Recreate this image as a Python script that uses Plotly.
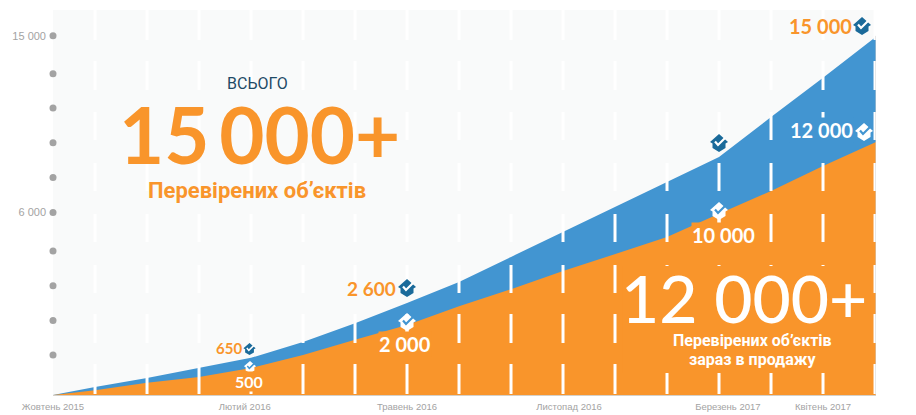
import plotly.graph_objects as go

# Axis units: x = dash-column index, y = equally drawn tick steps of the infographic scale
x_pos = [0.192, 1, 2, 3, 4, 5, 6, 7, 8, 9, 10, 11, 12, 13, 14, 15, 16, 16.019]
total = [0, 0.23, 0.49, 0.78, 1.07, 1.53, 2.07, 2.65, 3.26, 3.98, 4.70, 5.42, 6.14, 6.86, 8.01, 9.14, 10.30, 10.35]
on_sale = [0, 0.14, 0.35, 0.52, 0.78, 1.15, 1.59, 2.02, 2.56, 3.05, 3.57, 4.06, 4.55, 5.22, 5.88, 6.60, 7.27, 7.29]
y_ticks = [1.15, 2.15, 3.15, 4.15, 5.26, 6.27, 7.27, 8.27, 9.26, 10.35]
y_labels = ["", "", "", "", "6 000", "", "", "", "", "15 000"]
x_ticks = [0.192, 3.88, 7.0, 10.115, 13.17, 15.0]
x_labels = ["Жовтень 2015", "Лютий 2016", "Травень 2016", "Листопад 2016", "Березень 2017", "Квітень 2017"]
dash_columns = list(range(1, 17))
dash_spans = [(10, 40), (61, 90), (112, 140), (163, 191), (214, 242), (265, 293), (314, 343), (364, 394)]

BG, BLUE, ORANGE, DARK, GREY = "#f9fafa", "#4295d1", "#f9952b", "#1a6a9a", "#a3a3a3"
NARROW = "Liberation Sans"


def X(px):
    return (px - 43) / 52


def Y(py):
    return (395 - py) / 34.7


fig = go.Figure()
fig.add_trace(go.Scatter(x=x_pos, y=total, mode="lines", line=dict(color=BLUE, width=0), fill="tozeroy",
                         fillcolor=BLUE, hoverinfo="skip"))
fig.add_trace(go.Scatter(x=x_pos, y=on_sale, mode="lines", line=dict(color=ORANGE, width=0), fill="tozeroy",
                         fillcolor=ORANGE, hoverinfo="skip"))
dx, dy = [], []
for c in dash_columns:
    for a, b in dash_spans:
        dx += [c, c, None]
        dy += [Y(a), Y(b), None]
fig.add_trace(go.Scatter(x=dx, y=dy, mode="lines", line=dict(color="white", width=3), hoverinfo="skip",
                         connectgaps=False))
fig.add_trace(go.Scatter(x=[x_pos[-1], x_pos[-1]], y=[0, total[-1]], mode="lines",
                         line=dict(color="#cfcfcf", width=1), hoverinfo="skip", cliponaxis=False))
fig.add_trace(go.Scatter(x=[x_pos[0]] * len(y_ticks), y=y_ticks, mode="markers", cliponaxis=False,
                         marker=dict(color=GREY, size=7), hoverinfo="skip"))

shapes = [dict(type="rect", layer="above", xref="x", yref="y", x0=X(622), x1=X(870), y0=Y(266), y1=Y(373),
               fillcolor=ORANGE, line_width=0)]


def icon(px, py, s, fill, check, stem=0):
    pts = [(0, 9), (9, 1), (6.5, -0.5), (6.5, -5), (0, -9), (-6.5, -5), (-6.5, -0.5), (-9, 1)]
    path = "M" + " L".join(f"{a*s:.1f},{b*s:.1f}" for a, b in pts) + " Z"
    base = dict(type="path", layer="above", xref="x", yref="y", xsizemode="pixel", ysizemode="pixel",
                xanchor=X(px), yanchor=Y(py))
    if stem:
        shapes.append(dict(base, path=f"M-1.5,-5 L1.5,-5 L1.5,{-stem} L-1.5,{-stem} Z", fillcolor=fill, line_width=0))
    shapes.append(dict(base, path=path, fillcolor=fill, line_width=0))
    c = [(-4, 1.5), (-1, -2), (6, 5)]
    shapes.append(dict(base, path="M" + " L".join(f"{a*s:.1f},{b*s:.1f}" for a, b in c),
                       fillcolor="rgba(0,0,0,0)", line=dict(color=check, width=2.2 * s)))


icon(249.5, 349, 0.68, DARK, "white")
icon(250, 367, 0.68, "white", BLUE, stem=6)
icon(407, 288, 1, DARK, "white")
icon(407, 322, 1, "white", BLUE, stem=13)
icon(719, 143, 1, DARK, "white")
icon(719, 211, 1, "white", BLUE, stem=14)
icon(862, 26, 1, DARK, "white")
icon(864, 132, 1, "white", BLUE)


def note(text, cx, cy, size, color, family="Lato", weight=700, bg=None):
    return dict(text=text, x=X(cx), y=Y(cy), xref="x", yref="y", showarrow=False, xanchor="center", yanchor="middle",
                font=dict(family=family, size=size, color=color, weight=weight), bgcolor=bg,
                borderpad=0)


annotations = [
    note("ВСЬОГО", 257, 83, 16, "#1f4a66", "Roboto", 400),
    note("15\u2009000+", 259, 134, 78, ORANGE, "Lato", 700),
    note("Перевірених об’єктів", 257, 190, 22, ORANGE, "Roboto", 700),
    note("12 000+", 744, 297, 66, "white", "Lato", 500),
    note("Перевірених об’єктів", 752, 340, 16, "white", "Roboto", 700),
    note("зараз в продажу", 752, 359, 16, "white", "Roboto", 700),
    note("650", 229, 348, 15, ORANGE),
    note("500", 249, 381, 16, "white", bg=ORANGE),
    note("2 600", 371, 288, 19, ORANGE),
    note("2 000", 405, 344, 20, "white", bg=ORANGE),
    note("10 000", 723, 235, 20, "white", bg=ORANGE),
    note("15 000", 820, 26, 20, ORANGE),
    note("12 000", 821, 130, 20, "white", bg=BLUE),
]

fig.update_layout(
    width=916, height=415, autosize=False, showlegend=False,
    margin=dict(l=53, r=40, t=10, b=20, pad=0, autoexpand=False),
    paper_bgcolor="white", plot_bgcolor=BG, shapes=shapes, annotations=annotations,
    font=dict(family=NARROW, color=GREY),
    xaxis=dict(range=[x_pos[0], x_pos[-1]], tickmode="array", tickvals=x_ticks, ticktext=x_labels, showgrid=False,
               zeroline=False, ticks="", showline=True, linecolor="#d5d0c8", linewidth=1, automargin=False,
               tickfont=dict(family=NARROW, size=9.5, color=GREY), ticklabelstandoff=3),
    yaxis=dict(range=[0, 385 / 34.7], tickmode="array", tickvals=y_ticks, ticktext=y_labels, showgrid=False,
               zeroline=False, ticks="", showline=False, automargin=False,
               tickfont=dict(family=NARROW, size=11, color=GREY), ticklabelstandoff=6),
)
fig.write_html("out.html", post_script="document.body.style.margin='0';", config={"displayModeBar": False})
